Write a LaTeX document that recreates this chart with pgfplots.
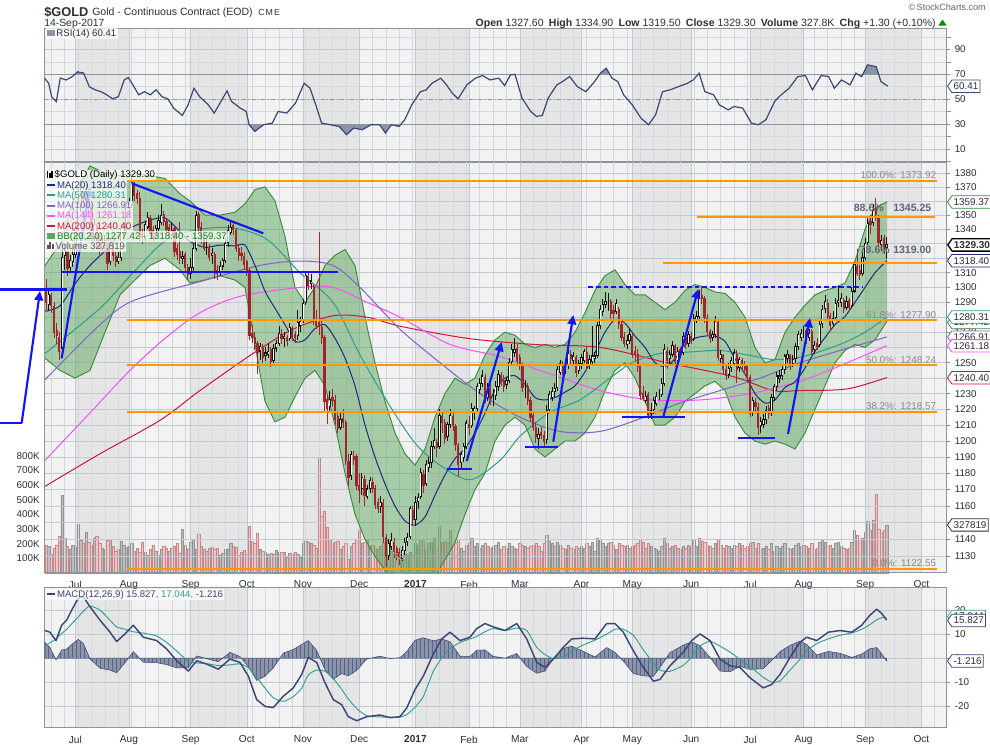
\documentclass[border=0pt]{standalone}
\usepackage{fontspec}
\setmainfont{Liberation Sans}
\usepackage{pgfplots}
\pgfplotsset{compat=1.18}
\usepackage{pgfplotstable}
\usetikzlibrary{shapes.symbols,arrows.meta,patterns}
\newcommand\fs[1]{\fontsize{#1}{#1}\selectfont}
\definecolor{bglight}{HTML}{F2F2F2}
\definecolor{bgdark}{HTML}{E5E5E5}
\definecolor{gridm}{HTML}{C3C9D2}
\definecolor{gridc}{HTML}{D4D8DF}
\definecolor{frame}{HTML}{8E949E}
\definecolor{tickc}{HTML}{2B2F36}
\definecolor{ma20}{HTML}{1F2A7A}
\definecolor{ma50}{HTML}{2E9C8C}
\definecolor{ma100}{HTML}{7D63C9}
\definecolor{ma144}{HTML}{FF4DFF}
\definecolor{ma200}{HTML}{D0153F}
\definecolor{bbline}{HTML}{3A8A3A}
\definecolor{bbfill}{HTML}{5FA85F}
\definecolor{bbtext}{HTML}{1D7A1D}
\definecolor{candup}{HTML}{111111}
\definecolor{canddn}{HTML}{A1262B}
\definecolor{volup}{HTML}{BDBDBD}
\definecolor{volupe}{HTML}{939393}
\definecolor{voldn}{HTML}{EFC4C4}
\definecolor{voldne}{HTML}{CC8585}
\definecolor{fib}{HTML}{FF9900}
\definecolor{annot}{HTML}{1414F5}
\definecolor{rsiline}{HTML}{3B4775}
\definecolor{rsifill}{HTML}{8C94AA}
\definecolor{macdl}{HTML}{3B4775}
\definecolor{sigl}{HTML}{2FA08E}
\definecolor{fibtxt}{HTML}{8A8A8A}
\definecolor{fibb}{HTML}{5E6575}

\pgfplotstableread{
d o h l c v
0 1297 1306 1285 1290 190
1 1289 1298 1284 1295 180
2 1294 1296 1283 1288 130
3 1287 1290 1266 1270 170
4 1271 1276 1262 1268 190
5 1266 1270 1252 1258 250
6 1260 1332 1255 1320 530
7 1322 1330 1312 1325 235
8 1324 1327 1308 1313 180
9 1314 1322 1310 1318 165
10 1318 1326 1314 1322 190
11 1323 1345 1320 1340 175
12 1341 1362 1338 1358 330
13 1357 1375 1352 1366 225
14 1367 1370 1355 1362 200
15 1361 1372 1355 1366 280
16 1365 1368 1352 1356 210
17 1355 1357 1330 1334 190
18 1335 1347 1331 1343 240
19 1342 1344 1328 1332 250
20 1333 1338 1322 1327 200
21 1327 1334 1325 1330 170
22 1329 1336 1326 1332 160
23 1331 1333 1312 1317 225
24 1318 1333 1315 1330 230
25 1329 1331 1318 1322 180
26 1321 1324 1314 1318 150
27 1318 1324 1316 1320 160
28 1321 1344 1318 1340 215
29 1339 1345 1335 1341 190
30 1342 1360 1340 1357 175
31 1356 1362 1350 1357 185
32 1358 1377 1355 1373 200
33 1372 1374 1360 1364 150
34 1365 1368 1358 1362 170
35 1361 1366 1332 1335 140
36 1336 1340 1330 1335 210
37 1334 1346 1332 1343 140
38 1342 1352 1340 1348 120
39 1347 1350 1335 1338 160
40 1339 1342 1332 1335 190
41 1336 1343 1333 1340 150
42 1341 1350 1339 1346 120
43 1345 1358 1343 1349 160
44 1350 1353 1342 1346 185
45 1345 1348 1336 1340 170
46 1341 1344 1334 1338 150
47 1337 1345 1335 1339 170
48 1340 1342 1321 1325 180
49 1326 1330 1319 1323 200
50 1324 1345 1316 1321 135
51 1320 1325 1316 1321 300
52 1322 1324 1310 1314 190
53 1313 1316 1305 1309 160
54 1310 1320 1306 1313 210
55 1314 1330 1311 1326 230
56 1327 1353 1325 1349 165
57 1350 1352 1338 1342 265
58 1341 1345 1330 1333 180
59 1334 1337 1325 1327 160
60 1328 1333 1322 1328 150
61 1327 1330 1318 1321 170
62 1322 1327 1316 1323 175
63 1322 1324 1306 1310 160
64 1311 1315 1305 1310 170
65 1311 1318 1308 1314 120
66 1315 1320 1312 1318 135
67 1319 1334 1317 1330 160
68 1331 1343 1328 1339 165
69 1338 1345 1336 1341 200
70 1342 1346 1336 1340 180
71 1339 1341 1324 1327 175
72 1326 1330 1318 1322 120
73 1323 1328 1318 1322 140
74 1321 1324 1312 1316 155
75 1317 1319 1308 1312 130
76 1311 1313 1265 1268 320
77 1269 1275 1263 1267 220
78 1266 1270 1258 1263 200
79 1262 1264 1243 1257 270
80 1258 1263 1252 1260 165
81 1259 1262 1250 1254 150
82 1255 1260 1251 1256 140
83 1256 1263 1253 1257 130
84 1258 1260 1247 1251 135
85 1252 1262 1250 1259 125
86 1260 1265 1257 1262 155
87 1263 1274 1261 1269 140
88 1268 1272 1262 1266 145
89 1266 1270 1260 1267 140
90 1266 1268 1261 1265 110
91 1266 1276 1264 1273 135
92 1272 1274 1264 1267 130
93 1268 1271 1263 1267 140
94 1268 1285 1265 1276 125
95 1275 1280 1270 1277 110
96 1278 1292 1276 1289 200
97 1290 1310 1288 1308 215
98 1307 1311 1298 1302 210
99 1303 1309 1299 1304 200
100 1300 1302 1275 1279 190
101 1278 1285 1272 1275 170
102 1276 1338 1268 1274 790
103 1273 1278 1262 1267 390
104 1266 1268 1218 1225 420
105 1226 1230 1211 1221 310
106 1222 1232 1218 1226 230
107 1227 1233 1222 1226 200
108 1225 1229 1210 1214 210
109 1215 1218 1205 1208 220
110 1209 1218 1207 1213 160
111 1214 1220 1208 1212 180
112 1211 1213 1185 1188 200
113 1187 1192 1172 1178 95
114 1179 1194 1176 1191 180
115 1190 1194 1185 1189 200
116 1190 1192 1170 1173 230
117 1172 1180 1162 1170 290
118 1171 1180 1167 1177 200
119 1176 1179 1160 1167 210
120 1166 1173 1164 1170 230
121 1171 1178 1168 1175 180
122 1174 1177 1168 1171 190
123 1170 1173 1158 1161 170
124 1162 1165 1156 1159 160
125 1160 1166 1156 1162 180
126 1161 1164 1138 1142 210
127 1141 1143 1124 1130 240
128 1131 1140 1128 1137 220
129 1136 1144 1134 1139 150
130 1138 1141 1129 1133 130
131 1134 1136 1128 1131 125
132 1132 1135 1125 1130 120
133 1129 1136 1127 1133 85
134 1134 1141 1131 1138 130
135 1139 1144 1136 1141 120
136 1142 1160 1140 1158 140
137 1157 1160 1148 1152 110
138 1152 1166 1148 1162 200
139 1163 1168 1158 1165 190
140 1166 1183 1164 1180 230
141 1179 1182 1168 1173 220
142 1174 1188 1172 1185 160
143 1184 1190 1181 1186 200
144 1187 1200 1183 1196 210
145 1197 1208 1195 1200 240
146 1199 1201 1190 1196 170
147 1197 1220 1195 1216 320
148 1215 1219 1205 1212 210
149 1211 1214 1198 1202 220
150 1203 1212 1200 1210 200
151 1211 1220 1208 1216 290
152 1215 1218 1206 1210 190
153 1209 1211 1194 1198 210
154 1197 1199 1178 1186 230
155 1187 1193 1183 1191 170
156 1190 1199 1187 1196 150
157 1197 1213 1195 1211 190
158 1210 1216 1204 1209 200
159 1210 1224 1208 1220 240
160 1219 1222 1213 1220 180
161 1221 1237 1218 1234 200
162 1233 1240 1230 1236 170
163 1237 1245 1234 1241 190
164 1240 1243 1224 1227 200
165 1228 1237 1225 1234 180
166 1233 1236 1223 1227 170
167 1228 1233 1222 1228 180
168 1229 1238 1226 1234 190
169 1235 1245 1232 1242 210
170 1241 1244 1235 1239 160
171 1238 1242 1231 1235 180
172 1236 1241 1233 1238 170
173 1239 1253 1237 1250 200
174 1251 1262 1248 1258 180
175 1257 1266 1254 1258 170
176 1259 1262 1249 1252 160
177 1253 1256 1245 1249 200
178 1248 1250 1231 1234 190
179 1235 1239 1227 1235 180
180 1234 1237 1223 1226 170
181 1225 1228 1212 1215 180
182 1216 1218 1206 1209 190
183 1208 1212 1199 1203 200
184 1202 1208 1195 1204 180
185 1205 1209 1201 1204 150
186 1203 1206 1196 1200 200
187 1201 1223 1198 1219 260
188 1220 1232 1218 1229 220
189 1228 1234 1225 1231 200
190 1232 1237 1228 1233 180
191 1234 1248 1232 1245 210
192 1244 1252 1242 1249 190
193 1248 1251 1242 1245 170
194 1246 1251 1243 1248 160
195 1249 1262 1246 1256 190
196 1255 1258 1249 1253 170
197 1252 1257 1249 1254 160
198 1253 1255 1241 1244 180
199 1245 1252 1243 1249 170
200 1250 1256 1246 1253 180
201 1252 1259 1250 1257 170
202 1256 1260 1245 1248 200
203 1249 1255 1246 1252 180
204 1251 1274 1249 1254 210
205 1253 1257 1250 1254 150
206 1255 1277 1253 1274 240
207 1275 1288 1272 1285 230
208 1284 1292 1281 1288 200
209 1289 1297 1286 1290 180
210 1291 1296 1284 1291 200
211 1290 1292 1279 1283 210
212 1284 1288 1279 1283 190
213 1284 1292 1282 1289 160
214 1285 1287 1272 1276 200
215 1275 1278 1264 1267 190
216 1266 1270 1260 1263 180
217 1262 1268 1259 1264 190
218 1265 1272 1262 1268 170
219 1267 1269 1253 1256 180
220 1257 1261 1251 1256 190
221 1255 1259 1244 1248 200
222 1247 1249 1226 1229 230
223 1230 1235 1225 1227 210
224 1226 1232 1224 1228 170
225 1229 1231 1214 1217 200
226 1218 1224 1214 1219 180
227 1220 1228 1217 1225 170
228 1224 1231 1222 1228 160
229 1229 1233 1226 1229 150
230 1230 1240 1228 1236 180
231 1237 1262 1235 1258 240
232 1257 1260 1246 1252 200
233 1253 1258 1250 1255 170
234 1256 1264 1254 1261 180
235 1260 1262 1247 1251 190
236 1252 1260 1250 1257 170
237 1258 1260 1253 1256 160
238 1257 1270 1255 1267 180
239 1266 1268 1259 1262 170
240 1263 1271 1260 1268 190
241 1267 1270 1262 1265 180
242 1266 1282 1264 1279 230
243 1278 1284 1276 1280 180
244 1281 1298 1279 1293 240
245 1294 1300 1289 1293 220
246 1292 1294 1276 1280 210
247 1279 1282 1268 1271 190
248 1270 1272 1263 1266 180
249 1267 1271 1264 1268 170
250 1269 1281 1266 1277 200
251 1276 1278 1251 1254 230
252 1253 1258 1250 1255 190
253 1254 1256 1243 1246 170
254 1245 1248 1239 1242 190
255 1243 1250 1240 1246 180
256 1247 1254 1244 1251 170
257 1250 1259 1248 1256 190
258 1255 1258 1237 1246 180
259 1247 1254 1244 1252 200
260 1251 1253 1245 1249 190
261 1248 1251 1243 1246 170
262 1247 1249 1238 1241 180
263 1240 1242 1215 1218 200
264 1219 1228 1216 1225 210
265 1224 1227 1218 1222 170
266 1221 1224 1204 1209 200
267 1210 1215 1205 1212 160
268 1211 1217 1208 1213 170
269 1214 1222 1211 1219 180
270 1220 1223 1214 1218 160
271 1219 1230 1216 1227 200
272 1228 1236 1225 1234 150
273 1235 1244 1232 1241 180
274 1240 1245 1237 1241 170
275 1242 1248 1239 1245 180
276 1246 1256 1243 1254 200
277 1253 1258 1250 1255 170
278 1254 1256 1245 1249 160
279 1250 1255 1247 1252 170
280 1253 1263 1250 1260 190
281 1261 1271 1258 1268 200
282 1267 1272 1264 1269 180
283 1270 1274 1266 1270 190
284 1271 1273 1262 1266 180
285 1267 1272 1264 1269 170
286 1270 1272 1255 1258 200
287 1259 1264 1256 1261 160
288 1262 1266 1258 1261 170
289 1262 1279 1260 1275 210
290 1276 1288 1273 1285 230
291 1286 1295 1283 1290 210
292 1289 1292 1278 1281 180
293 1280 1283 1271 1275 190
294 1276 1284 1274 1279 170
295 1280 1293 1278 1289 200
296 1290 1301 1287 1291 210
297 1290 1296 1287 1292 180
298 1291 1293 1283 1286 170
299 1287 1294 1285 1290 160
300 1291 1293 1284 1287 170
301 1288 1300 1286 1297 210
302 1298 1318 1296 1315 290
303 1314 1326 1308 1310 260
304 1311 1315 1305 1309 230
305 1310 1324 1308 1320 240
306 1321 1334 1319 1330 280
307 1331 1348 1329 1344 350
308 1345 1350 1337 1344 290
309 1345 1358 1342 1353 360
310 1354 1362 1346 1351 540
311 1348 1350 1328 1331 300
312 1330 1336 1325 1332 280
313 1333 1336 1323 1327 290
314 1327.6 1334.9 1319.5 1329.3 327.8
}\gold

\pgfplotstableread{
x u m l
45 1315 1284 1253
60 1330 1287.5 1245
75 1365 1302.5 1240
90 1385 1315 1245
105 1380 1325 1270
120 1378 1336.5 1295
135 1380 1342.5 1305
150 1378 1346.5 1315
165 1376 1348 1320
180 1365 1338.5 1312
190 1360 1331.5 1303
205 1350 1327.5 1305
220 1350 1329 1308
235 1352 1328.5 1305
245 1358 1329 1300
255 1368 1315 1262
265 1370 1297.5 1225
275 1360 1286 1212
285 1335 1275 1215
295 1300 1264 1228
305 1290 1265 1240
315 1300 1272.5 1245
325 1315 1275 1235
335 1322 1266 1210
345 1326 1253 1180
355 1315 1235 1155
365 1280 1210 1140
375 1250 1190 1130
385 1225 1173.5 1122
395 1205 1160 1115
405 1192 1151 1110
415 1185 1148.5 1112
425 1195 1153.5 1112
435 1215 1166.5 1118
445 1230 1179 1128
455 1240 1189 1138
465 1236 1195.5 1155
475 1240 1205 1170
485 1255 1217.5 1180
495 1265 1232.5 1200
505 1270 1240 1210
515 1268 1241.5 1215
525 1262 1236 1210
535 1260 1227.5 1195
545 1262 1226 1190
555 1260 1227.5 1195
565 1262 1231 1200
575 1270 1235 1200
585 1283 1244 1205
595 1298 1256.5 1215
605 1308 1270 1232
615 1312 1278.5 1245
625 1302 1276 1250
635 1295 1267.5 1240
645 1295 1260 1225
655 1290 1250 1210
665 1285 1247.5 1210
675 1290 1252.5 1215
685 1298 1261.5 1225
695 1302 1266 1230
705 1300 1267.5 1235
715 1297 1267.5 1238
725 1296 1264 1232
735 1290 1252.5 1215
745 1280 1242.5 1205
755 1260 1230 1200
765 1250 1224 1198
775 1252 1226 1200
785 1270 1234 1198
795 1280 1237.5 1195
805 1288 1246.5 1205
815 1295 1257.5 1220
825 1298 1266.5 1235
835 1300 1275 1250
845 1303 1280.5 1258
855 1318 1290 1262
865 1340 1300 1260
875 1355 1310 1265
887 1359.37 1318.4 1277.42
}\bb

% Bollinger envelope as one closed outline: upper band forward, lower band back
\pgfplotstableread{
x y
45 1315
60 1330
75 1365
90 1385
105 1380
120 1378
135 1380
150 1378
165 1376
180 1365
190 1360
205 1350
220 1350
235 1352
245 1358
255 1368
265 1370
275 1360
285 1335
295 1300
305 1290
315 1300
325 1315
335 1322
345 1326
355 1315
365 1280
375 1250
385 1225
395 1205
405 1192
415 1185
425 1195
435 1215
445 1230
455 1240
465 1236
475 1240
485 1255
495 1265
505 1270
515 1268
525 1262
535 1260
545 1262
555 1260
565 1262
575 1270
585 1283
595 1298
605 1308
615 1312
625 1302
635 1295
645 1295
655 1290
665 1285
675 1290
685 1298
695 1302
705 1300
715 1297
725 1296
735 1290
745 1280
755 1260
765 1250
775 1252
785 1270
795 1280
805 1288
815 1295
825 1298
835 1300
845 1303
855 1318
865 1340
875 1355
887 1359.37
887 1277.42
875 1265
865 1260
855 1262
845 1258
835 1250
825 1235
815 1220
805 1205
795 1195
785 1198
775 1200
765 1198
755 1200
745 1205
735 1215
725 1232
715 1238
705 1235
695 1230
685 1225
675 1215
665 1210
655 1210
645 1225
635 1240
625 1250
615 1245
605 1232
595 1215
585 1205
575 1200
565 1200
555 1195
545 1190
535 1195
525 1210
515 1215
505 1210
495 1200
485 1180
475 1170
465 1155
455 1138
445 1128
435 1118
425 1112
415 1112
405 1110
395 1115
385 1122
375 1130
365 1140
355 1155
345 1180
335 1210
325 1235
315 1245
305 1240
295 1228
285 1215
275 1212
265 1225
255 1262
245 1300
235 1305
220 1308
205 1305
190 1303
180 1312
165 1320
150 1315
135 1305
120 1295
105 1270
90 1245
75 1240
60 1245
45 1253
}\bbpoly

\pgfplotstableread{
x y
45 1256
100 1286
133 1310
167 1333
200 1340
233 1341
267 1333
300 1310
333 1290
360 1255
390 1222
416 1198
440 1185
470 1176
500 1188
520 1203
550 1218
580 1226
610 1240
632 1250
660 1256
690 1257
720 1258
748 1255
775 1252
803 1254
840 1262
865 1270
887 1280.31
}\maL

\pgfplotstableread{
x y
45 1239
100 1275
133 1291
200 1304
260 1315
300 1318
333 1315
360 1300
400 1272
440 1250
480 1230
520 1215
560 1206
600 1206
640 1214
680 1224
720 1232
760 1240
800 1250
840 1258
887 1266.91
}\maC

\pgfplotstableread{
x y
45 1188
83 1213
130 1245
167 1267
200 1283
240 1294
300 1300
333 1300
367 1290
400 1280
450 1262
500 1254
540 1245
600 1232
650 1226
700 1226
750 1230
800 1238
840 1248
887 1261.18
}\maD

\pgfplotstableread{
x y
45 1172
100 1192
160 1213
200 1232
253 1256
293 1272
333 1281
367 1280
400 1274
467 1266
533 1262
600 1260
667 1250
733 1241
773 1232
800 1232
847 1233
887 1240.4
}\maE

\pgfplotstableread{
x r
44.6 66.9
48.7 62.8
51.6 52
56.3 48
60.3 67
66.1 65.5
72 68
77.7 72
83.6 71
89.4 60
95.2 57.5
101 56
106.8 53.5
112.6 50.3
118.4 52
124.2 65.5
128.3 67.4
132.9 61.5
138.7 53.5
144.5 56
150.3 53.5
156.1 57.5
162 52
167.8 50.3
173.6 42.8
182.3 36.9
188.1 45.4
193.9 58.8
199.7 52
208.4 45.4
214.2 38.8
220 46.8
227 56.7
231.6 48.1
240.3 42.8
246.2 40.1
249.1 29.4
254.9 24
263.6 29.4
272.3 30.7
278.1 40.1
286.8 38.8
295.5 46.8
304.2 62.8
310 58.8
315.8 45.4
321.6 30.7
330.4 29.4
339.1 28
346.6 21.4
353.6 26.7
362.3 25.4
371 29.4
379.7 29.4
385.5 22.7
391.3 29.4
398.9 28
404.7 33.4
411.7 45.4
420.4 56
426.2 57.5
432 62.8
440.7 66.9
446.5 61.5
452.3 54.8
458.1 50.3
466.8 61.5
475.5 66.9
482.5 69
490 65.5
498.8 66.9
504.6 61
510.4 69.5
515 70
522 50.8
530.7 40.1
536.5 36.1
542.3 36.9
548.1 50.8
556.8 61.5
562.6 64.2
569.6 68.2
577.2 60.2
585.9 56
594.6 64.2
600.4 70.9
606.2 74.9
612 66.9
617.8 64.2
623.6 53.5
632.3 45.4
641 34.7
648.6 29.4
655.6 37.4
662.5 56
670.1 57.5
678.8 60.2
687.5 62.8
693.3 65.5
699.1 70.9
704.9 56
713.6 53.5
719.4 45.4
728.2 41.4
734 44.1
742.7 42.8
751.4 30.7
758.3 29.4
765.9 33.4
774.6 48.1
780.4 53
789.1 58.8
797.8 68.2
805.4 69
812.4 57.5
821.1 69
828.6 68.2
834.4 58.8
841.4 65.5
850.1 61.5
855.9 70.9
861.7 68.2
867.5 77.6
876.2 76.2
880.9 64.2
887.8 60.41
}\rsi

\pgfplotstableread{
x m s h
45 11.5 5 6.5
50 10.8 6.4 4.4
56 7.3 8 -0.7
61.7 13.7 10.3 3.4
66.7 15.8 12 3.8
71.7 20 14.3 5.7
78.3 25 17.2 7.8
83.3 25.6 19.5 6.1
90 21.4 21.7 -0.3
100 15.8 20 -4.2
110 10.8 15.8 -5
116.7 6.9 13 -6.1
125 10.1 12 -1.9
133.3 13.7 11 2.7
143.3 8.7 10.4 -1.7
156.7 7.3 9.2 -1.9
166.7 3.8 6.5 -2.7
176.7 -1.1 3 -4.1
188.3 -5.4 -1.4 -4
196.7 -1.1 -2 0.9
206.7 -2.5 -2.3 -0.2
218.3 -4.6 -3.1 -1.5
230 -0.4 -2.8 2.4
240 -1.8 -2.4 0.6
248.3 -7.5 -4 -3.5
256.7 -17.3 -8 -9.3
265 -20.1 -12.5 -7.6
273.3 -20.6 -16.5 -4.1
283.3 -15.9 -18 2.1
293.3 -12.4 -16 3.6
301.7 -6.8 -12.5 5.7
308.3 0.3 -7 7.3
316.7 -1.8 -5 3.2
325 -10.3 -5.5 -4.8
333.3 -17.3 -8.5 -8.8
341.7 -19.4 -13 -6.4
348.3 -24.4 -17 -7.4
356.7 -26.1 -21 -5.1
366.7 -24.4 -24 -0.4
380 -23.7 -24.5 0.8
390 -24.8 -24.6 -0.2
400 -24.4 -24.6 0.2
406.7 -20.8 -23.5 2.7
415 -13.1 -20.5 7.4
423.3 -7.5 -16 8.5
433.3 1.7 -5.5 7.2
441.7 8 0 8
450 10.8 4 6.8
460 7.3 6.5 0.8
470 8.7 8 0.7
476.7 12.3 9 3.3
485 14.4 11 3.4
493.3 13 12.3 0.7
505 11.5 11.5 0
516.7 14.4 12.5 1.9
526.7 8 11.5 -3.5
536.7 -1.8 4.5 -6.3
545 -3.9 1.5 -5.4
553.3 -0.4 -0.2 -0.2
563.3 4.5 0.5 4
571.7 8 3 5
583.3 8.3 5.5 2.8
595 8 7.5 0.5
606.7 14.4 10 4.4
615 14.4 12 2.4
623.3 10.8 12 -1.2
633.3 3.1 9.5 -6.4
643.3 -3.9 3.5 -7.4
653.3 -9.6 -2 -7.6
660 -8.9 -5 -3.9
670 -3.2 -5.5 2.3
683.3 2.4 -3 5.4
691.7 7.3 0.5 6.8
700 10.1 5 5.1
710 7.3 7 0.3
720 -0.4 5 -5.4
730 -3.2 2.5 -5.7
740 -3.9 -0.5 -3.4
750 -8.2 -3.5 -4.7
763.3 -12.4 -8 -4.4
771.7 -11 -10 -1
780 -6.8 -9.5 2.7
790 0.3 -5 5.3
800 6.6 -0.5 7.1
806.7 8.7 3 5.7
816.7 7.3 6 1.3
828.3 10.8 8 2.8
840 11.5 9.5 2
851.7 10.8 10.5 0.3
861.7 13.7 12 1.7
870 17.9 14 3.9
876.7 20.4 16 4.4
881.7 18.6 16.8 1.8
886.7 15.827 17.044 -1.216
}\macd

\pgfplotsset{
  panel/.style={
    scale only axis, anchor=north west, width=676.8pt,
    xmin=44.3, xmax=946.7,
    axis line style={draw=frame, line width=0.6pt},
    xtick={75.4,129,190.6,246.8,303,359.2,415.4,469,519.8,581.4,632.3,691.2,750.1,803.6,865.2,921.4},
    minor xtick={51.35,64.735,...,940},
    xmajorgrids, xminorgrids, ymajorgrids,
    major grid style={draw=gridm, line width=0.45pt},
    minor grid style={draw=gridc, line width=0.4pt},
    xtick style={draw=none},
    every minor tick/.style={draw=none},
    ytick pos=right, yticklabel pos=right,
    ytick style={draw=frame, line width=0.5pt},
    major tick length=2.5pt, tick align=outside,
    yticklabel style={font=\fs{7.4}, text=tickc},
    xticklabel style={font=\fs{7.6}, text=tickc},
    /pgf/number format/assume math mode=true,
  },
  candle/.style={draw=none, mark=none, forget plot,
    error bars/y dir=minus, error bars/y explicit, error bars/error mark=none},
}
\tikzset{
  tag/.style={signal, signal to=west, signal pointer angle=110, draw=#1, fill=white,
    line width=0.6pt, inner xsep=1.3pt, inner ysep=0.6pt, minimum height=9.3pt,
    anchor=west, font=\fs{7.4}, text=tickc},
  leg/.style={anchor=west, fill=white, fill opacity=0.72, text opacity=1,
    inner xsep=1pt, inner ysep=0.4pt, font=\fs{7.2}, text height=5.6pt, text depth=1.5pt},
  fibl/.style={anchor=south east, font=\fs{7.4}, text=fibtxt, inner sep=0.5pt},
  arr/.style={annot, line width=1.6pt, -{Triangle[length=7pt,width=6.5pt]}},
  bl/.style={annot, line width=1.6pt},
}

\begin{document}
\begin{tikzpicture}
\begin{scope}[x=0.75pt,y=-0.75pt]
  \fill[white] (0,0) rectangle (990,744);
  \fill[bglight] (44.3,28) rectangle (946.7,162);
  \fill[bglight] (44.3,162) rectangle (946.7,573);
  \fill[bglight] (44.3,587.3) rectangle (946.7,727.7);
  \foreach \a/\b in {75.4/129,190.6/246.8,303/359.2,415.4/469,519.8/581.4,632.3/691.2,750.1/803.6,865.2/921.4}{
    \fill[bgdark] (\a,28) rectangle (\b,162);
    \fill[bgdark] (\a,162) rectangle (\b,573);
    \fill[bgdark] (\a,587.3) rectangle (\b,727.7);
  }
\end{scope}

% ---------------- RSI panel
\begin{axis}[panel, at={(33.225pt,-21pt)}, height=100.5pt, ymin=-0.6, ymax=107.3,
  ytick={10,30,50,70,90}, minor ytick={0,20,40,60,80,100}, yminorgrids,
  xticklabels={}, xticklabel style={opacity=0}]
  % overbought / oversold shading (RSI segments beyond 70 and 30)
  \addplot[fill=rsifill, draw=none, forget plot] coordinates {(248.9,30) (249.1,29.4) (254.9,24) (263.6,29.4) (267.6,30)};
  \addplot[fill=rsifill, draw=none, forget plot] coordinates {(326.3,30) (330.4,29.4) (339.1,28) (346.6,21.4) (353.6,26.7) (362.3,25.4) (371,29.4) (379.7,29.4) (385.5,22.7) (391.3,29.4) (398.9,28) (401.1,30)};
  \addplot[fill=rsifill, draw=none, forget plot] coordinates {(647.7,30) (648.6,29.4) (649.1,30)};
  \addplot[fill=rsifill, draw=none, forget plot] coordinates {(755.1,30) (758.3,29.4) (759.4,30)};
  \addplot[fill=rsifill, draw=none, forget plot] coordinates {(74.9,70) (77.7,72) (83.6,71) (84.1,70)};
  \addplot[fill=rsifill, draw=none, forget plot] coordinates {(599.6,70) (600.4,70.9) (606.2,74.9) (609.8,70)};
  \addplot[fill=rsifill, draw=none, forget plot] coordinates {(698.1,70) (699.1,70.9) (699.5,70)};
  \addplot[fill=rsifill, draw=none, forget plot] coordinates {(855.3,70) (855.9,70.9) (857.8,70)};
  \addplot[fill=rsifill, draw=none, forget plot] coordinates {(862.8,70) (867.5,77.6) (876.2,76.2) (878.6,70)};
  \addplot[draw=frame, line width=0.7pt, forget plot] coordinates {(44.3,30) (946.7,30)};
  \addplot[draw=frame, line width=0.7pt, forget plot] coordinates {(44.3,70) (946.7,70)};
  \addplot[draw=frame, dash dot, line width=0.55pt, forget plot] coordinates {(44.3,50) (946.7,50)};
  \addplot[draw=rsiline, line width=0.9pt, forget plot] table[x=x,y=r]{\rsi};
\end{axis}

% ---------------- Volume (under price)
\begin{axis}[scale only axis, anchor=north west, at={(33.225pt,-121.5pt)}, width=676.8pt, height=308.25pt,
  xmin=44.3, xmax=946.7, ymin=0, ymax=2802,
  axis line style={draw=none}, xtick=\empty,
  ytick={100,200,300,400,500,600,700,800},
  yticklabels={100K,200K,300K,400K,500K,600K,700K,800K},
  ytick pos=left, yticklabel pos=left, ytick style={draw=none},
  yticklabel style={font=\fs{7.4}, text=tickc},
  /pgf/number format/assume math mode=true]
  \addplot[ybar, bar width=1.75pt, bar shift=0pt, fill=volup, draw=volupe, line width=0.3pt, forget plot,
    restrict expr to domain={\thisrow{c}-\thisrow{o}}{0:10000}]
    table[x expr=46+2.677*\thisrow{d}, y=v]{\gold};
  \addplot[ybar, bar width=1.75pt, bar shift=0pt, fill=voldn, draw=voldne, line width=0.3pt, forget plot,
    restrict expr to domain={\thisrow{c}-\thisrow{o}}{-10000:-0.001}]
    table[x expr=46+2.677*\thisrow{d}, y=v]{\gold};
\end{axis}

% ---------------- Price panel
\begin{axis}[panel, at={(33.225pt,-121.5pt)}, height=308.25pt, ymode=log, ymin=1120.3, ymax=1388,
  ytick={1130,1140,1150,1160,1170,1180,1190,1200,1210,1220,1230,1240,1250,1260,1270,1280,1290,1300,1310,1320,1330,1340,1350,1360,1370,1380},
  yticklabels={1130,1140,1150,1160,1170,1180,1190,1200,1210,1220,1230,1240,1250,1260,1270,1280,1290,1300,1310,1320,1330,1340,1350,1360,1370,1380},
  xticklabels={Jul,Aug,Sep,Oct,Nov,Dec,\textbf{2017},Feb,Mar,Apr,May,Jun,Jul,Aug,Sep,Oct}]
  \addplot[fill=bbfill, fill opacity=0.5, draw=none, forget plot] table[x=x,y=y]{\bbpoly};
  \addplot[draw=bbline, line width=0.7pt, forget plot] table[x=x,y=u]{\bb};
  \addplot[draw=bbline, line width=0.7pt, forget plot] table[x=x,y=l]{\bb};
  \addplot[draw=ma200, line width=0.75pt, smooth, forget plot] table[x=x,y=y]{\maE};
  \addplot[draw=ma144, line width=0.75pt, smooth, forget plot] table[x=x,y=y]{\maD};
  \addplot[draw=ma100, line width=0.75pt, smooth, forget plot] table[x=x,y=y]{\maC};
  \addplot[draw=ma50, line width=0.75pt, smooth, forget plot] table[x=x,y=y]{\maL};
  \addplot[draw=ma20, line width=0.75pt, smooth, tension=0.45, forget plot] table[x=x,y=m]{\bb};
  % wicks
  \addplot[candle, error bars/error bar style={line width=0.6pt, draw=candup},
    restrict expr to domain={\thisrow{c}-\thisrow{o}}{0:10000}]
    table[x expr=46+2.677*\thisrow{d}, y=h, y error expr=\thisrow{h}-\thisrow{l}]{\gold};
  \addplot[candle, error bars/error bar style={line width=0.6pt, draw=canddn},
    restrict expr to domain={\thisrow{c}-\thisrow{o}}{-10000:-0.001}]
    table[x expr=46+2.677*\thisrow{d}, y=h, y error expr=\thisrow{h}-\thisrow{l}]{\gold};
  % bodies
  \addplot[candle, error bars/error bar style={line width=1.65pt, draw=canddn, line cap=rect},
    restrict expr to domain={\thisrow{c}-\thisrow{o}}{-10000:-0.001}]
    table[x expr=46+2.677*\thisrow{d}, y=o, y error expr=\thisrow{o}-\thisrow{c}]{\gold};
  \addplot[candle, error bars/error bar style={line width=1.65pt, draw=candup, line cap=rect},
    restrict expr to domain={\thisrow{c}-\thisrow{o}}{0:10000}]
    table[x expr=46+2.677*\thisrow{d}, y=c, y error expr=\thisrow{c}-\thisrow{o}]{\gold};
  \addplot[candle, error bars/error bar style={line width=0.55pt, draw=white},
    restrict expr to domain={\thisrow{c}-\thisrow{o}}{0:10000}]
    table[x expr=46+2.677*\thisrow{d}, y=c, y error expr=\thisrow{c}-\thisrow{o}]{\gold};
  % fibonacci levels
  \addplot[fib, line width=1.5pt, forget plot] coordinates {(127,1373.92) (937,1373.92)};
  \addplot[fib, line width=1.5pt, forget plot] coordinates {(127,1277.90) (937,1277.90)};
  \addplot[fib, line width=1.5pt, forget plot] coordinates {(127,1248.24) (937,1248.24)};
  \addplot[fib, line width=1.5pt, forget plot] coordinates {(127,1218.57) (937,1218.57)};
  \addplot[fib, line width=1.5pt, forget plot] coordinates {(127,1122.55) (937,1122.55)};
  \addplot[fib, line width=1.5pt, forget plot] coordinates {(697,1348.5) (935,1348.5)};
  \addplot[fib, line width=1.5pt, forget plot] coordinates {(663,1317) (937,1317)};
\end{axis}

% ---------------- MACD panel
\begin{axis}[panel, at={(33.225pt,-440.475pt)}, height=105.3pt, ymin=-29, ymax=29.5,
  ytick={-20,-10,0,10,20}, yticklabels={-20,-10,0,10,20},
  xticklabels={Jul,Aug,Sep,Oct,Nov,Dec,\textbf{2017},Feb,Mar,Apr,May,Jun,Jul,Aug,Sep,Oct}]
  \addplot[fill=rsifill, draw=macdl, line width=0.4pt, forget plot] table[x=x,y=h]{\macd} \closedcycle;
  \addplot[pattern=vertical lines, pattern color=macdl!85, draw=none, forget plot] table[x=x,y=h]{\macd} \closedcycle;
  \addplot[draw=sigl, line width=0.7pt, smooth, tension=0.4, forget plot] table[x=x,y=s]{\macd};
  \addplot[draw=macdl, line width=1.1pt, line join=round, forget plot] table[x=x,y=m]{\macd};
\end{axis}

\begin{scope}[x=0.75pt,y=-0.75pt]
  % annotations
  \draw[bl] (0,289.5) -- (67,289.5);
  \draw[bl] (0,423) -- (22,423);
  \draw[arr] (21.7,423) -- (40,291);
  \draw[arr] (61.7,358.3) -- (90,187);
  \draw[bl] (62,271.7) -- (338,271.7);
  \draw[bl] (131.7,183.3) -- (263.3,233.3);
  \draw[bl] (446.7,469) -- (471.7,469);
  \draw[arr] (466.7,461) -- (501.7,342);
  \draw[bl] (525,446.7) -- (558.3,446.7);
  \draw[arr] (553.3,441.7) -- (573.3,315);
  \draw[bl, dash pattern=on 3.5pt off 2.2pt] (588.3,286.7) -- (863,286.7);
  \draw[bl] (621.7,416.7) -- (685,416.7);
  \draw[arr] (663.3,416.7) -- (698.3,289);
  \draw[bl] (738,438) -- (775,438);
  \draw[arr] (788,434) -- (810,318);

  % fib labels
  \node[fibl] at (937,180) {100.0\%: 1373.92};
  \node[fibl] at (937,319.5) {61.8\%: 1277.90};
  \node[fibl] at (937,364.5) {50.0\%: 1248.24};
  \node[fibl] at (937,410.3) {38.2\%: 1218.57};
  \node[fibl] at (937,567.5) {0.0\%: 1122.55};
  \node[anchor=west, font=\fs{7.4}, text=fibtxt!80, inner sep=0pt] at (393,557) {78.6\%: 1117.40};
  \node[anchor=base east, font=\bfseries\fs{7.9}, text=fibb, inner sep=0pt] at (884,211) {88.6\%};
  \node[anchor=base west, font=\bfseries\fs{7.9}, text=fibb, inner sep=0pt] at (893,211) {1345.25};
  \node[anchor=base east, font=\bfseries\fs{7.9}, text=fibb, inner sep=0pt] at (890,253) {78.6\%};
  \node[anchor=base west, font=\bfseries\fs{7.9}, text=fibb, inner sep=0pt] at (893,253) {1319.00};

  % legend
  \node[leg] at (45.5,175) {\rule{1pt}{5pt}\hspace{0.6pt}\rule{1pt}{3.5pt}\hspace{0.6pt}\rule{1pt}{5pt}\hspace{1.5pt}\$GOLD (Daily) 1329.30};
  \node[leg, text=ma20] at (45.5,185.3) {\rule[0.22em]{6pt}{1.3pt}\hspace{1.5pt}MA(20) 1318.40};
  \node[leg, text=ma50] at (45.5,195.6) {\rule[0.22em]{6pt}{1.3pt}\hspace{1.5pt}MA(50) 1280.31};
  \node[leg, text=ma100] at (45.5,205.9) {\rule[0.22em]{6pt}{1.3pt}\hspace{1.5pt}MA(100) 1266.91};
  \node[leg, text=ma144] at (45.5,216.2) {\rule[0.22em]{6pt}{1.3pt}\hspace{1.5pt}MA(144) 1261.18};
  \node[leg, text=ma200] at (45.5,226.5) {\rule[0.22em]{6pt}{1.3pt}\hspace{1.5pt}MA(200) 1240.40};
  \node[leg, text=bbtext] at (45.5,236.4) {\textcolor{bbfill}{\rule{6pt}{4.5pt}}\hspace{1.5pt}BB(20,2.0) 1277.42 - 1318.40 - 1359.37};
  \node[leg, text=black!65] at (45.5,246.4) {\rule{1.3pt}{3pt}\hspace{0.5pt}\rule{1.3pt}{5pt}\hspace{0.5pt}\rule{1.3pt}{4pt}\hspace{1.5pt}Volume 327,819};
  \node[leg, text=tickc] at (45.5,33.5) {\textcolor{rsifill}{\rule{6pt}{4.5pt}}\hspace{1pt}RSI(14) 60.41};
  \node[leg, text=macdl] at (45.5,594.5) {\rule[0.22em]{6pt}{1.3pt}\hspace{1.5pt}MACD(12,26,9) 15.827, \textcolor{sigl}{17.044,} -1.216};

  % value tags
  \node[tag=rsiline] at (947,86.2) {60.41};
  \node[tag=bbline] at (947,202) {1359.37};
  \node[tag=black, line width=1pt, font=\bfseries\fs{7.5}] at (947,244.9) {1329.30};
  \node[tag=ma20] at (947,260.7) {1318.40};
  \node[tag=bbline] at (947,322.5) {1277.42};
  \node[tag=ma50] at (947,317) {1280.31};
  \node[tag=ma100] at (947,337.1) {1266.91};
  \node[tag=ma144] at (947,345.8) {1261.18};
  \node[tag=ma200] at (947,377.7) {1240.40};
  \node[tag=tickc] at (947,524.9) {327819};
  \node[tag=sigl] at (947,616.5) {17.044};
  \node[tag=macdl] at (947,620.5) {15.827};
  \node[tag=macdl] at (947,661) {-1.216};

  % header
  \node[anchor=base west, font=\bfseries\fs{9.6}, text=tickc, inner sep=0pt] at (44,16) {\$GOLD};
  \node[anchor=base west, font=\fs{7.9}, text=tickc, inner sep=0pt] at (92,15.5) {Gold - Continuous Contract (EOD)};
  \node[anchor=base west, font=\fs{6.6}, text=tickc, inner sep=0pt] at (258,15.5) {C\kern0.8pt M\kern0.8pt E};
  \node[anchor=base west, font=\fs{7.8}, text=tickc, inner sep=0pt] at (44,26.8) {14-Sep-2017};
  \node[anchor=base east, font=\fs{7.9}, text=tickc, inner sep=0pt] at (936,26.5)
    {\textbf{Open} 1327.60\enspace\textbf{High} 1334.90\enspace\textbf{Low} 1319.50\enspace\textbf{Close} 1329.30\enspace\textbf{Volume} 327.8K\enspace\textbf{Chg} +1.30 (+0.10\%)};
  \fill[green!55!black] (938.5,25.5) -- (946.5,25.5) -- (942.5,19.5) -- cycle;
  \node[anchor=base east, font=\fs{6.8}, text=black!60, inner sep=0pt] at (986,10.5) {\textcopyright\,StockCharts.com};
\end{scope}
\pgfresetboundingbox
\path[use as bounding box] (0,0) rectangle (742.5pt,-558pt);
\end{tikzpicture}
\end{document}
